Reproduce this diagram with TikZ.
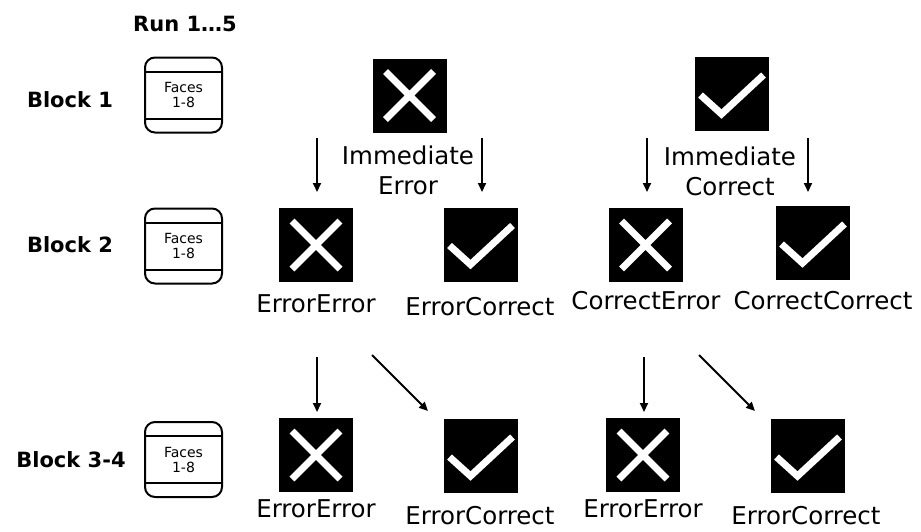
\documentclass[tikz,border=0pt]{standalone}
\usepackage{fontspec}
\setmainfont{DejaVu Sans}
\usetikzlibrary{arrows.meta,calc}
\tikzset{
  facebox/.style={draw, line width=2pt, rounded corners=10pt, minimum width=77pt, minimum height=75pt, inner sep=0pt, align=center, font=\fontsize{14}{15}\selectfont},
  xbox/.style={fill=black, minimum size=74pt, inner sep=0pt,
    path picture={\draw[white, line width=7pt]
      ($(path picture bounding box.center)+(-24,-24)$) -- ($(path picture bounding box.center)+(24,24)$)
      ($(path picture bounding box.center)+(-24,24)$) -- ($(path picture bounding box.center)+(24,-24)$);}},
  cbox/.style={fill=black, minimum size=74pt, inner sep=0pt,
    path picture={\draw[white, line width=7pt, line join=miter]
      ($(path picture bounding box.center)+(-31,1)$) -- ($(path picture bounding box.center)+(-10,20)$) -- ($(path picture bounding box.center)+(32,-19)$);}},
  lbl/.style={inner sep=0pt, align=center, font=\fontsize{24.5}{30}\selectfont},
  blk/.style={inner sep=0pt, font=\fontsize{21}{25}\selectfont\bfseries},
  arr/.style={line width=2pt, -{Triangle[length=9pt,width=8pt]}}
}
\begin{document}
\begin{tikzpicture}[x=1pt,y=-1pt]
\useasboundingbox (0,0) rectangle (921,531);
% left column
\node[blk] (run) at (185,24) {Run 1…5};
\node[blk] (b1) at (70,100) {Block 1};
\node[blk] (b2) at (70,245) {Block 2};
\node[blk] (b3) at (71,460) {Block 3‑4};
\node[facebox] (f1) at (183.5,95) {Faces\\1-8};
\node[facebox] (f2) at (183.5,246) {Faces\\1-8};
\node[facebox] (f3) at (183.5,459.5) {Faces\\1-8};
\foreach \f in {f1,f2,f3}{
  \draw[line width=2pt] ($(\f.north west)+(0,15)$) -- ($(\f.north east)+(0,15)$);
  \draw[line width=2pt] ($(\f.south west)+(0,-15)$) -- ($(\f.south east)+(0,-15)$);
}
% row 1
\node[xbox] (ie) at (409.5,95.5) {};
\node[cbox] (ic) at (731.5,94) {};
\node[lbl] (iet) at (408,170) {Immediate\\Error};
\node[lbl] (ict) at (730,171) {Immediate\\Correct};
\coordinate (a1s) at (317,138); \coordinate (a1e) at (317,192);
\coordinate (a2s) at (482,138); \coordinate (a2e) at (482,192);
\coordinate (a3s) at (647,138); \coordinate (a3e) at (647,192);
\coordinate (a4s) at (808,138); \coordinate (a4e) at (808,192);
\draw[arr] (a1s) -- (a1e);
\draw[arr] (a2s) -- (a2e);
\draw[arr] (a3s) -- (a3e);
\draw[arr] (a4s) -- (a4e);
% row 2
\node[xbox] (ee2) at (316,245) {};
\node[cbox] (ec2) at (480.5,244.5) {};
\node[xbox] (ce2) at (645.5,245) {};
\node[cbox] (cc2) at (812.5,243) {};
\node[lbl] (ee2t) at (316,304) {ErrorError};
\node[lbl] (ec2t) at (480,307) {ErrorCorrect};
\node[lbl] (ce2t) at (646,301) {CorrectError};
\node[lbl] (cc2t) at (823,301) {CorrectCorrect};
% row 3
\coordinate (b1s) at (317,357); \coordinate (b1e) at (317,412);
\coordinate (b2s) at (372,355); \coordinate (b2e) at (428,411);
\coordinate (b3s) at (644,357); \coordinate (b3e) at (644,412);
\coordinate (b4s) at (699,355); \coordinate (b4e) at (755,411);
\draw[arr] (b1s) -- (b1e);
\draw[arr] (b2s) -- (b2e);
\draw[arr] (b3s) -- (b3e);
\draw[arr] (b4s) -- (b4e);
\node[xbox] (ee3) at (316,455) {};
\node[cbox] (ec3) at (480.5,456) {};
\node[xbox] (ee4) at (643,455) {};
\node[cbox] (ec4) at (807.5,456) {};
\node[lbl] (ee3t) at (316,509) {ErrorError};
\node[lbl] (ec3t) at (480,516) {ErrorCorrect};
\node[lbl] (ee4t) at (643,509) {ErrorError};
\node[lbl] (ec4t) at (806,516) {ErrorCorrect};
\end{tikzpicture}
\end{document}
